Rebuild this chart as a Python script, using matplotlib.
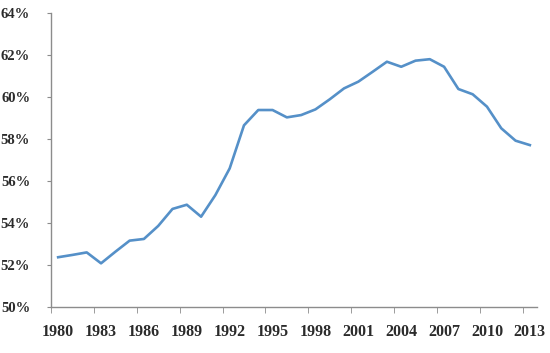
import matplotlib.pyplot as plt
import numpy as np

years = list(range(1980, 2014))
share = [52.37, 52.48, 52.60, 52.08, 52.63, 53.16, 53.24, 53.86, 54.67, 54.87,
         54.30, 55.33, 56.60, 58.65, 59.38, 59.38, 59.03, 59.14, 59.41, 59.89,
         60.41, 60.73, 61.20, 61.68, 61.44, 61.73, 61.80, 61.44, 60.38, 60.13,
         59.54, 58.51, 57.92, 57.71]
label_years = list(range(1980, 2014, 3))
y_ticks = list(range(50, 65, 2))

plt.rcParams['font.family'] = ['Liberation Serif', 'DejaVu Serif']

fig = plt.figure(figsize=(5.5, 3.53), dpi=100)
ax = fig.add_axes([51 / 550, 1 - 307 / 353, 486 / 550, 294 / 353])

ax.plot(years, share, color='#5590c8', linewidth=1.9)

ax.set_xlim(1979.5, 2013.5)
ax.set_ylim(50, 64)

axis_col = '#8c8c8c'
for side in ['top', 'right']:
    ax.spines[side].set_visible(False)
for side in ['left', 'bottom']:
    ax.spines[side].set_color(axis_col)
    ax.spines[side].set_linewidth(1)

# tick marks between categories, labels centred on categories
ax.set_xticks(label_years)
ax.set_xticklabels([str(y) for y in label_years], fontsize=11.5, fontweight='bold', color='#2b2b2b')
ax.tick_params(axis='x', which='major', length=0, pad=12)
ax.set_xticks(np.arange(1979.5, 2013.5, 3), minor=True)
ax.tick_params(axis='x', which='minor', length=4, color=axis_col, direction='out')

ax.set_yticks(y_ticks)
ax.set_yticklabels([f"{v}%" for v in y_ticks], fontsize=10.5, fontweight='bold', color='#2b2b2b')
ax.tick_params(axis='y', length=3, color=axis_col, pad=12)

fig.savefig("out.png", dpi=100)
